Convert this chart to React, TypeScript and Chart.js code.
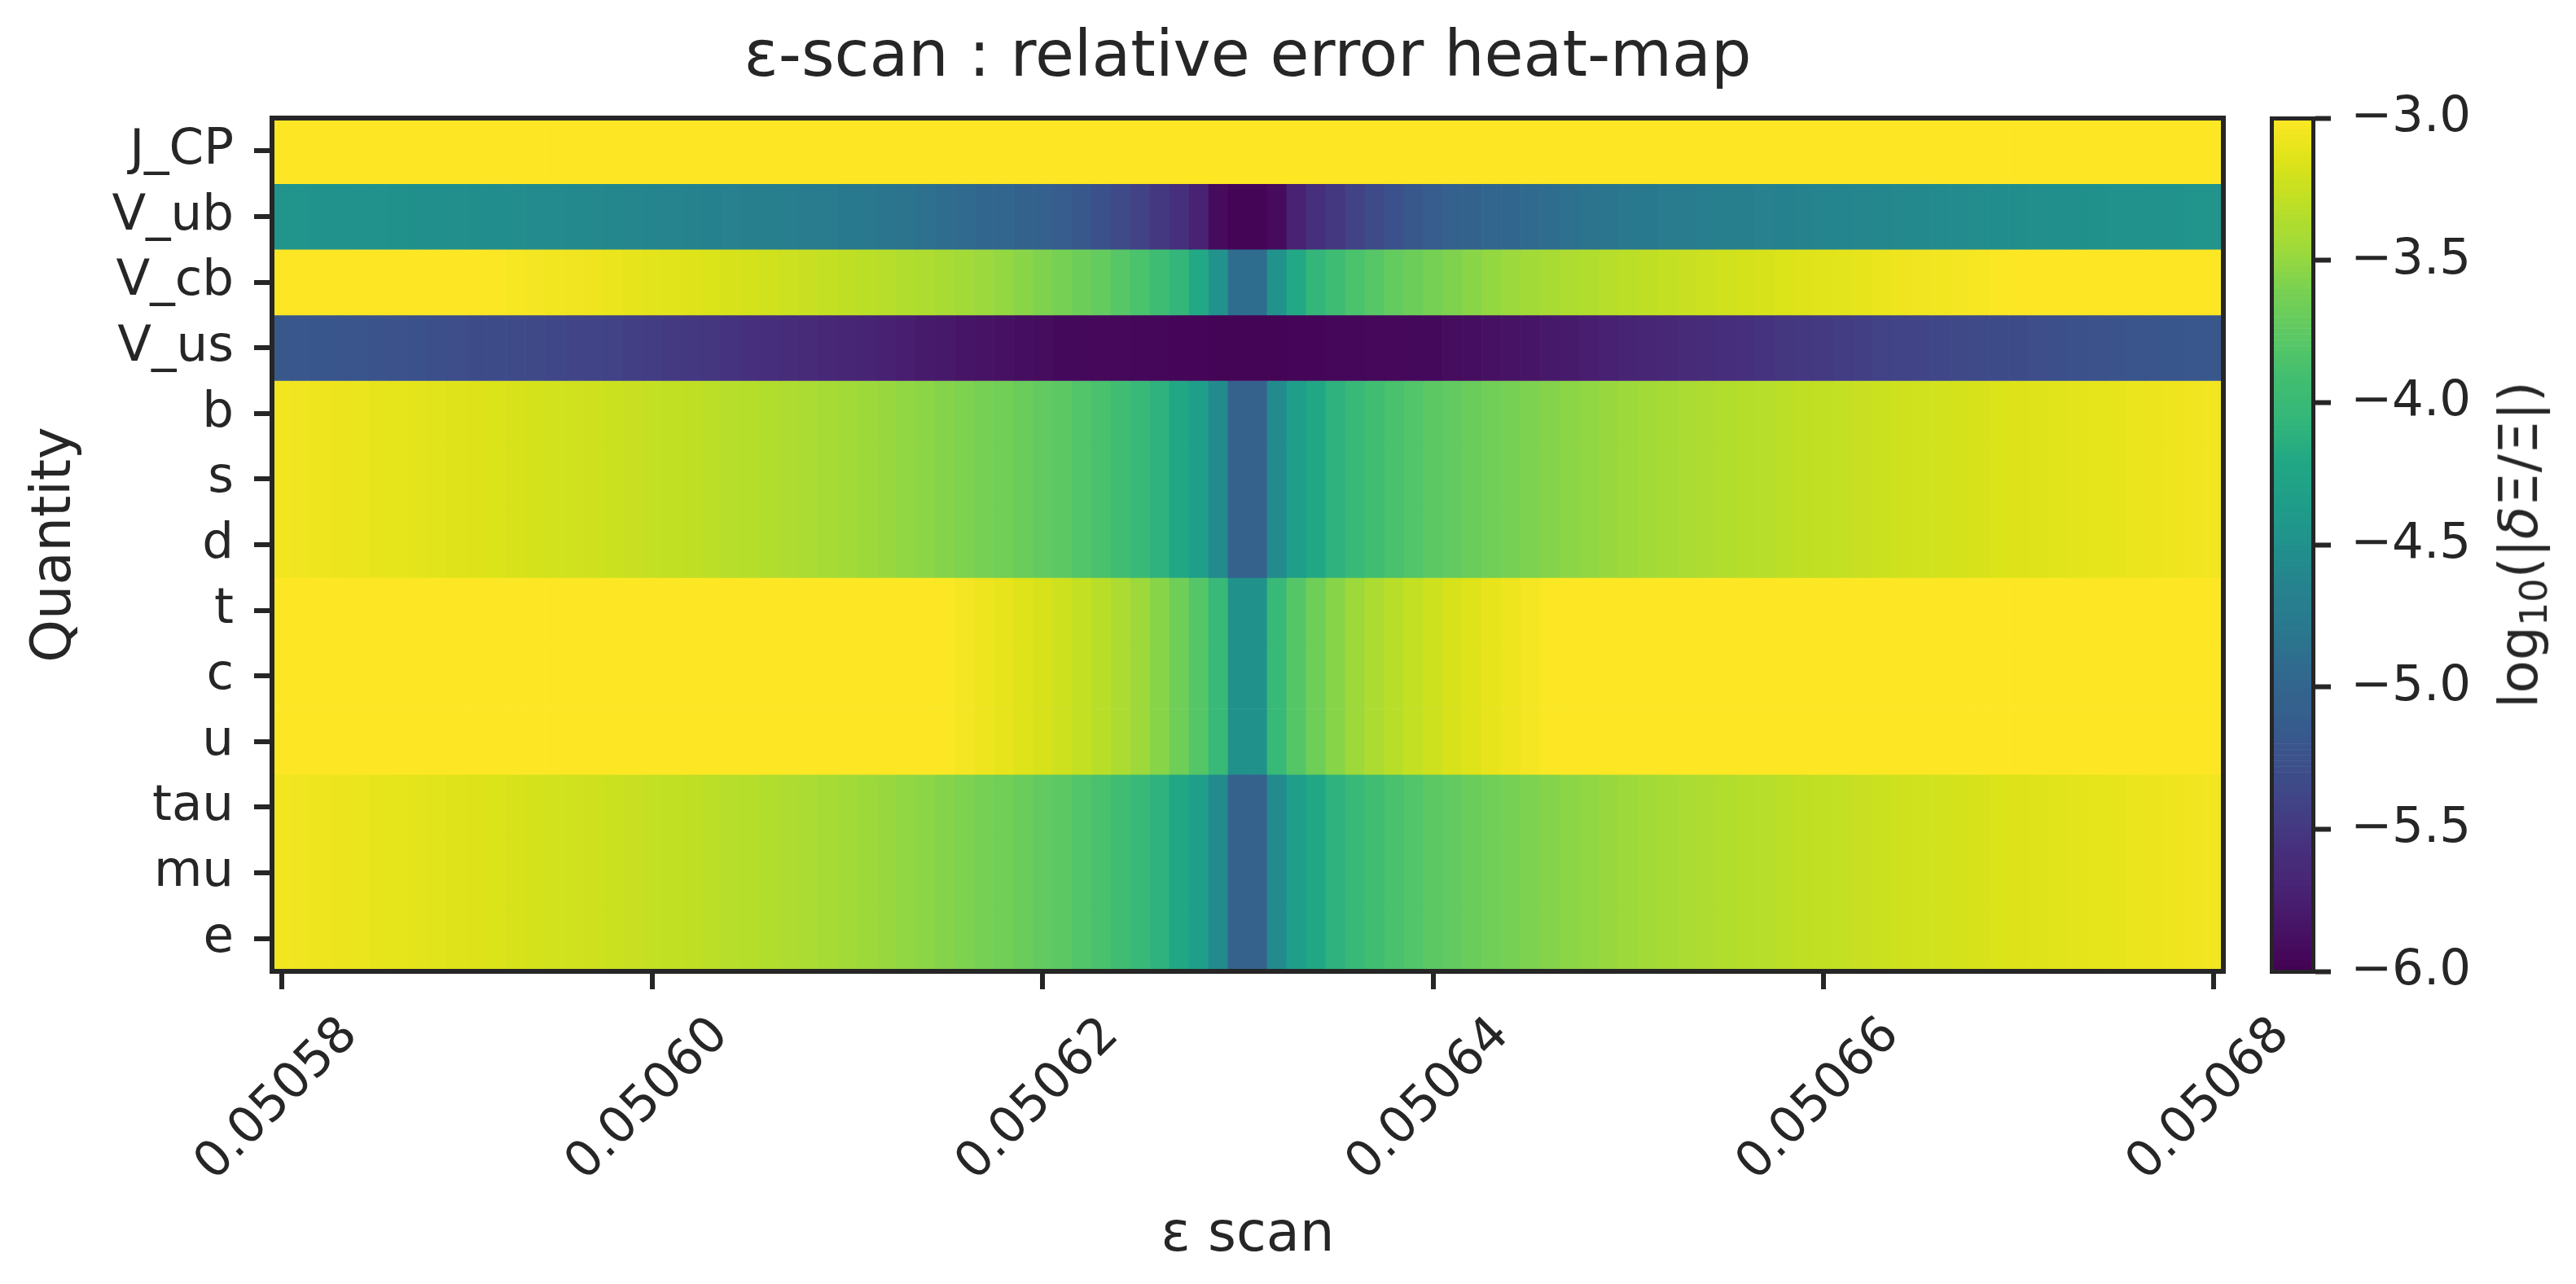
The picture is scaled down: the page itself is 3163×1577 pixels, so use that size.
import React, { useEffect, useRef } from 'react';
import { Chart, registerables } from 'chart.js';

Chart.register(...registerables);

// ---------- data ----------
const quantities = ['J_CP', 'V_ub', 'V_cb', 'V_us', 'b', 's', 'd', 't', 'c', 'u', 'tau', 'mu', 'e'];

// x tick positions (column index of the 100-point ε scan) and their labels
const xTickColumns = [0, 19, 39, 59, 79, 99];
const xTickLabels = ['0.05058', '0.05060', '0.05062', '0.05064', '0.05066', '0.05068'];

// colour-bar range (log10 of relative error)
const cbarMin = -6.0;
const cbarMax = -3.0;
const cbarStep = 0.5;

// log10(|δΞ/Ξ|) per scan column (100 columns)
const errJCP = [
  -2.3, -2.3, -2.3, -2.3, -2.3, -2.3, -2.3, -2.3, -2.3, -2.3,
  -2.3, -2.3, -2.3, -2.3, -2.3, -2.3, -2.3, -2.3, -2.3, -2.3,
  -2.3, -2.3, -2.3, -2.3, -2.3, -2.3, -2.3, -2.3, -2.3, -2.3,
  -2.3, -2.3, -2.3, -2.3, -2.3, -2.3, -2.3, -2.3, -2.3, -2.3,
  -2.3, -2.3, -2.3, -2.3, -2.3, -2.3, -2.3, -2.3, -2.3, -2.3,
  -2.3, -2.3, -2.3, -2.3, -2.3, -2.3, -2.3, -2.3, -2.3, -2.3,
  -2.3, -2.3, -2.3, -2.3, -2.3, -2.3, -2.3, -2.3, -2.3, -2.3,
  -2.3, -2.3, -2.3, -2.3, -2.3, -2.3, -2.3, -2.3, -2.3, -2.3,
  -2.3, -2.3, -2.3, -2.3, -2.3, -2.3, -2.3, -2.3, -2.3, -2.3,
  -2.3, -2.3, -2.3, -2.3, -2.3, -2.3, -2.3, -2.3, -2.3, -2.3,
];

const errVub = [
  -4.47, -4.47, -4.48, -4.48, -4.49, -4.49, -4.50, -4.51, -4.51, -4.52,
  -4.53, -4.54, -4.55, -4.56, -4.57, -4.58, -4.59, -4.60, -4.61, -4.62,
  -4.63, -4.64, -4.66, -4.67, -4.69, -4.70, -4.72, -4.74, -4.76, -4.78,
  -4.80, -4.82, -4.85, -4.87, -4.90, -4.93, -4.96, -4.99, -5.03, -5.07,
  -5.12, -5.18, -5.26, -5.34, -5.42, -5.50, -5.58, -5.72, -5.92, -5.97,
  -5.97, -5.92, -5.72, -5.58, -5.50, -5.42, -5.34, -5.26, -5.18, -5.12,
  -5.07, -5.03, -4.99, -4.96, -4.93, -4.90, -4.87, -4.85, -4.82, -4.80,
  -4.78, -4.76, -4.74, -4.72, -4.70, -4.69, -4.67, -4.66, -4.64, -4.63,
  -4.62, -4.61, -4.60, -4.59, -4.58, -4.57, -4.56, -4.55, -4.54, -4.53,
  -4.52, -4.51, -4.51, -4.50, -4.49, -4.49, -4.48, -4.48, -4.47, -4.47,
];

const errVcb = [
  -2.90, -2.91, -2.92, -2.93, -2.94, -2.95, -2.96, -2.97, -2.98, -2.99,
  -3.00, -3.01, -3.03, -3.04, -3.05, -3.06, -3.07, -3.09, -3.10, -3.12,
  -3.13, -3.14, -3.16, -3.18, -3.19, -3.21, -3.23, -3.25, -3.27, -3.29,
  -3.31, -3.33, -3.36, -3.38, -3.41, -3.44, -3.47, -3.50, -3.54, -3.58,
  -3.62, -3.67, -3.72, -3.79, -3.86, -3.95, -4.06, -4.20, -4.48, -4.90,
  -4.90, -4.48, -4.20, -4.06, -3.95, -3.86, -3.79, -3.72, -3.67, -3.62,
  -3.58, -3.54, -3.50, -3.47, -3.44, -3.41, -3.38, -3.36, -3.33, -3.31,
  -3.29, -3.27, -3.25, -3.23, -3.21, -3.19, -3.18, -3.16, -3.14, -3.13,
  -3.12, -3.10, -3.09, -3.07, -3.06, -3.05, -3.04, -3.03, -3.01, -3.00,
  -2.99, -2.98, -2.97, -2.96, -2.95, -2.94, -2.93, -2.92, -2.91, -2.90,
];

const errVus = [
  -5.18, -5.19, -5.20, -5.21, -5.22, -5.23, -5.25, -5.26, -5.28, -5.29,
  -5.31, -5.32, -5.34, -5.35, -5.37, -5.39, -5.40, -5.42, -5.44, -5.46,
  -5.48, -5.50, -5.52, -5.54, -5.57, -5.59, -5.61, -5.63, -5.66, -5.68,
  -5.70, -5.73, -5.75, -5.78, -5.80, -5.83, -5.85, -5.87, -5.89, -5.91,
  -5.93, -5.93, -5.94, -5.94, -5.95, -5.95, -5.96, -5.96, -5.97, -5.97,
  -5.97, -5.97, -5.96, -5.96, -5.95, -5.95, -5.94, -5.94, -5.93, -5.93,
  -5.91, -5.89, -5.87, -5.85, -5.83, -5.80, -5.78, -5.75, -5.73, -5.70,
  -5.68, -5.66, -5.63, -5.61, -5.59, -5.57, -5.54, -5.52, -5.50, -5.48,
  -5.46, -5.44, -5.42, -5.40, -5.39, -5.37, -5.35, -5.34, -5.32, -5.31,
  -5.29, -5.28, -5.26, -5.25, -5.23, -5.22, -5.21, -5.20, -5.19, -5.18,
];

// b, s, d (down-type quark masses)
const errDownQuarks = [
  -3.05, -3.06, -3.07, -3.08, -3.09, -3.10, -3.11, -3.12, -3.13, -3.14,
  -3.15, -3.16, -3.18, -3.19, -3.20, -3.21, -3.22, -3.24, -3.25, -3.27,
  -3.28, -3.29, -3.31, -3.33, -3.34, -3.36, -3.38, -3.40, -3.42, -3.44,
  -3.46, -3.48, -3.51, -3.53, -3.56, -3.59, -3.62, -3.65, -3.69, -3.73,
  -3.77, -3.82, -3.87, -3.94, -4.01, -4.10, -4.21, -4.35, -4.57, -5.05,
  -5.05, -4.57, -4.35, -4.21, -4.10, -4.01, -3.94, -3.87, -3.82, -3.77,
  -3.73, -3.69, -3.65, -3.62, -3.59, -3.56, -3.53, -3.51, -3.48, -3.46,
  -3.44, -3.42, -3.40, -3.38, -3.36, -3.34, -3.33, -3.31, -3.29, -3.28,
  -3.27, -3.25, -3.24, -3.22, -3.21, -3.20, -3.19, -3.18, -3.16, -3.15,
  -3.14, -3.13, -3.12, -3.11, -3.10, -3.09, -3.08, -3.07, -3.06, -3.05,
];

// t, c, u (up-type quark masses)
const errUpQuarks = [
  -2.50, -2.51, -2.52, -2.53, -2.54, -2.55, -2.56, -2.57, -2.58, -2.59,
  -2.60, -2.61, -2.63, -2.64, -2.65, -2.66, -2.67, -2.69, -2.70, -2.72,
  -2.73, -2.74, -2.76, -2.78, -2.79, -2.81, -2.83, -2.85, -2.87, -2.89,
  -2.91, -2.93, -2.96, -2.98, -3.01, -3.04, -3.07, -3.10, -3.14, -3.18,
  -3.22, -3.27, -3.32, -3.39, -3.46, -3.55, -3.66, -3.80, -4.02, -4.50,
  -4.50, -4.02, -3.80, -3.66, -3.55, -3.46, -3.39, -3.32, -3.27, -3.22,
  -3.18, -3.14, -3.10, -3.07, -3.04, -3.01, -2.98, -2.96, -2.93, -2.91,
  -2.89, -2.87, -2.85, -2.83, -2.81, -2.79, -2.78, -2.76, -2.74, -2.73,
  -2.72, -2.70, -2.69, -2.67, -2.66, -2.65, -2.64, -2.63, -2.61, -2.60,
  -2.59, -2.58, -2.57, -2.56, -2.55, -2.54, -2.53, -2.52, -2.51, -2.50,
];

// tau, mu, e (charged leptons)
const errLeptons = [
  -3.05, -3.06, -3.07, -3.08, -3.09, -3.10, -3.11, -3.12, -3.13, -3.14,
  -3.15, -3.16, -3.18, -3.19, -3.20, -3.21, -3.22, -3.24, -3.25, -3.27,
  -3.28, -3.29, -3.31, -3.33, -3.34, -3.36, -3.38, -3.40, -3.42, -3.44,
  -3.46, -3.48, -3.51, -3.53, -3.56, -3.59, -3.62, -3.65, -3.69, -3.73,
  -3.77, -3.82, -3.87, -3.94, -4.01, -4.10, -4.21, -4.35, -4.57, -5.05,
  -5.05, -4.57, -4.35, -4.21, -4.10, -4.01, -3.94, -3.87, -3.82, -3.77,
  -3.73, -3.69, -3.65, -3.62, -3.59, -3.56, -3.53, -3.51, -3.48, -3.46,
  -3.44, -3.42, -3.40, -3.38, -3.36, -3.34, -3.33, -3.31, -3.29, -3.28,
  -3.27, -3.25, -3.24, -3.22, -3.21, -3.20, -3.19, -3.18, -3.16, -3.15,
  -3.14, -3.13, -3.12, -3.11, -3.10, -3.09, -3.08, -3.07, -3.06, -3.05,
];

const rowValues = [
  errJCP, errVub, errVcb, errVus,
  errDownQuarks, errDownQuarks, errDownQuarks,
  errUpQuarks, errUpQuarks, errUpQuarks,
  errLeptons, errLeptons, errLeptons,
];

// ---------- colour map (viridis) ----------
const VIRIDIS = [
  '#440154', '#471365', '#482475', '#46327e', '#414487', '#3b528b', '#355f8d',
  '#31688e', '#2a788e', '#26828e', '#21918c', '#1f9e89', '#22a884', '#35b779',
  '#44bf70', '#5ec962', '#7ad151', '#a0da39', '#bddf26', '#dde318', '#fde725',
];

function hexToRgb(h: string) {
  return [parseInt(h.slice(1, 3), 16), parseInt(h.slice(3, 5), 16), parseInt(h.slice(5, 7), 16)];
}

function viridis(t: number) {
  const tt = Math.min(1, Math.max(0, t));
  const pos = tt * (VIRIDIS.length - 1);
  const i = Math.min(VIRIDIS.length - 2, Math.floor(pos));
  const f = pos - i;
  const a = hexToRgb(VIRIDIS[i]);
  const b = hexToRgb(VIRIDIS[i + 1]);
  const c = a.map((v, k) => Math.round(v + (b[k] - v) * f));
  return `rgb(${c[0]},${c[1]},${c[2]})`;
}

function norm(v: number) {
  return (v - cbarMin) / (cbarMax - cbarMin);
}

const FONT = 'DejaVu Sans';
const INK = '#262626';
const W = 3163;
const H = 1577;

export default function App() {
  const mainRef = useRef<HTMLCanvasElement>(null);
  const cbRef = useRef<HTMLCanvasElement>(null);

  useEffect(() => {
    Chart.defaults.font.family = FONT;
    Chart.defaults.color = INK;

    const columns = errJCP.map((_, i) => String(i));

    const datasets = quantities.map((name, r) => ({
      label: name,
      xAxisID: 'x',
      yAxisID: 'y',
      data: rowValues[r].map(() => [r - 0.5, r + 0.5]),
      backgroundColor: rowValues[r].map((v) => viridis(norm(v))),
      borderWidth: 0,
      grouped: false,
      barPercentage: 1,
      categoryPercentage: 1,
    }));

    const main = new Chart(mainRef.current as HTMLCanvasElement, {
      type: 'bar',
      data: { labels: columns, datasets: datasets as any },
      options: {
        animation: false,
        responsive: false,
        events: [],
        layout: { padding: { left: 0, top: 0, right: W - 2730, bottom: 0 } },
        plugins: {
          legend: { display: false },
          tooltip: { enabled: false },
          title: {
            display: true,
            text: 'ε-scan : relative error heat-map',
            color: INK,
            fullSize: false,
            font: { family: FONT, size: 78, weight: 'normal' },
            padding: { top: 26, bottom: 25.4 },
          },
        },
        scales: {
          x: {
            type: 'category',
            position: 'bottom',
            offset: true,
            grid: { display: true, drawOnChartArea: false, offset: false, tickLength: 22, tickWidth: 6, lineWidth: 6, tickColor: INK },
            border: { display: true, color: INK, width: 6, z: 1 },
            ticks: {
              autoSkip: false,
              minRotation: 45,
              maxRotation: 45,
              labelOffset: 84,
              padding: 21,
              color: INK,
              font: { family: FONT, size: 61 },
              callback: (v: any) => {
                const k = xTickColumns.indexOf(Number(v));
                return k >= 0 ? xTickLabels[k] : '';
              },
            },
            afterBuildTicks: (s: any) => {
              s.ticks = xTickColumns.map((v) => ({ value: v }));
            },
            afterFit: (s: any) => {
              s.height = H - 1193;
            },
            title: {
              display: true,
              text: 'ε scan',
              color: INK,
              font: { family: FONT, size: 67 },
              padding: { top: 0, bottom: 18 },
            },
          },
          xTop: {
            type: 'category',
            position: 'top',
            grid: { display: false, drawTicks: false, lineWidth: 6 },
            ticks: { display: false },
            border: { display: true, color: INK, width: 6, z: 1 },
            afterFit: (s: any) => {
              s.height = 0;
            },
          },
          y: {
            type: 'linear',
            position: 'left',
            min: -0.5,
            max: 12.5,
            reverse: true,
            grid: { display: true, drawOnChartArea: false, tickLength: 22, tickWidth: 6, lineWidth: 6, tickColor: INK },
            border: { display: true, color: INK, width: 6, z: 1 },
            ticks: {
              autoSkip: false,
              padding: 25,
              color: INK,
              font: { family: FONT, size: 61 },
              callback: (v: any) => quantities[Math.round(Number(v))] ?? '',
            },
            afterBuildTicks: (s: any) => {
              s.ticks = quantities.map((_, i) => ({ value: i }));
            },
            afterFit: (s: any) => {
              s.width = 334;
            },
            title: {
              display: true,
              text: 'Quantity',
              color: INK,
              font: { family: FONT, size: 67 },
              padding: { top: 28, bottom: 0 },
            },
          },
          yRight: {
            type: 'linear',
            position: 'right',
            grid: { display: false, drawTicks: false, lineWidth: 6 },
            ticks: { display: false },
            border: { display: true, color: INK, width: 6, z: 1 },
            afterFit: (s: any) => {
              s.width = 0;
            },
          },
        },
      } as any,
    });

    // ----- colour bar -----
    const nSeg = 150;
    const segH = (cbarMax - cbarMin) / nSeg;
    const segStarts = Array.from({ length: nSeg }, (_, k) => cbarMin + k * segH);

    const cb = new Chart(cbRef.current as HTMLCanvasElement, {
      type: 'bar',
      data: {
        labels: ['cbar'],
        datasets: [
          {
            xAxisID: 'x',
            yAxisID: 'y',
            data: segStarts.map((a) => ({ x: 'cbar', y: [a, a + segH] })) as any,
            backgroundColor: segStarts.map((a) => viridis(norm(a + segH / 2))),
            borderWidth: 0,
            grouped: false,
            barPercentage: 1,
            categoryPercentage: 1,
          } as any,
        ],
      },
      options: {
        animation: false,
        responsive: false,
        events: [],
        layout: { padding: { left: 49, top: 145, right: 0, bottom: H - 1193 } },
        plugins: { legend: { display: false }, tooltip: { enabled: false }, title: { display: false } },
        scales: {
          x: {
            type: 'category',
            position: 'bottom',
            grid: { display: false, drawTicks: false, lineWidth: 5 },
            ticks: { display: false },
            border: { display: true, color: INK, width: 5, z: 1 },
            afterFit: (s: any) => {
              s.height = 0;
            },
          },
          xTop: {
            type: 'category',
            position: 'top',
            grid: { display: false, drawTicks: false, lineWidth: 5 },
            ticks: { display: false },
            border: { display: true, color: INK, width: 5, z: 1 },
            afterFit: (s: any) => {
              s.height = 0;
            },
          },
          y: {
            type: 'linear',
            position: 'right',
            min: cbarMin,
            max: cbarMax,
            grid: { display: true, drawOnChartArea: false, tickLength: 22, tickWidth: 6, lineWidth: 5, tickColor: INK },
            border: { display: true, color: INK, width: 5, z: 1 },
            ticks: {
              stepSize: cbarStep,
              autoSkip: false,
              padding: 24,
              color: INK,
              font: { family: FONT, size: 61 },
              callback: (v: any) => {
                const n = Number(v);
                return (n < 0 ? '\u2212' : '') + Math.abs(n).toFixed(1);
              },
            },
            afterFit: (s: any) => {
              s.width = 423 - 100;
            },
          },
          yLeft: {
            type: 'linear',
            position: 'left',
            min: cbarMin,
            max: cbarMax,
            grid: { display: false, drawTicks: false, lineWidth: 5 },
            ticks: { display: false },
            border: { display: true, color: INK, width: 5, z: 1 },
            afterFit: (s: any) => {
              s.width = 0;
            },
          },
        },
      } as any,
    });

    return () => {
      main.destroy();
      cb.destroy();
    };
  }, []);

  return (
    <div style={{ position: 'absolute', left: 0, top: 0, width: W, height: H, background: '#ffffff', overflow: 'hidden' }}>
      <canvas ref={mainRef} width={W} height={H} style={{ position: 'absolute', left: 0, top: 0, width: W, height: H }} />
      <canvas ref={cbRef} width={423} height={H} style={{ position: 'absolute', left: 2740, top: 0, width: 423, height: H }} />
      <div
        style={{
          position: 'absolute',
          left: 3097,
          top: 669,
          transform: 'translate(-50%, -50%) rotate(-90deg)',
          fontFamily: FONT,
          fontSize: 66,
          color: INK,
          whiteSpace: 'nowrap',
          lineHeight: 1,
        }}
      >
        log<sub style={{ fontSize: '0.7em', verticalAlign: '-0.25em' }}>10</sub>(|<i>δ</i>Ξ/Ξ|)
      </div>
    </div>
  );
}
